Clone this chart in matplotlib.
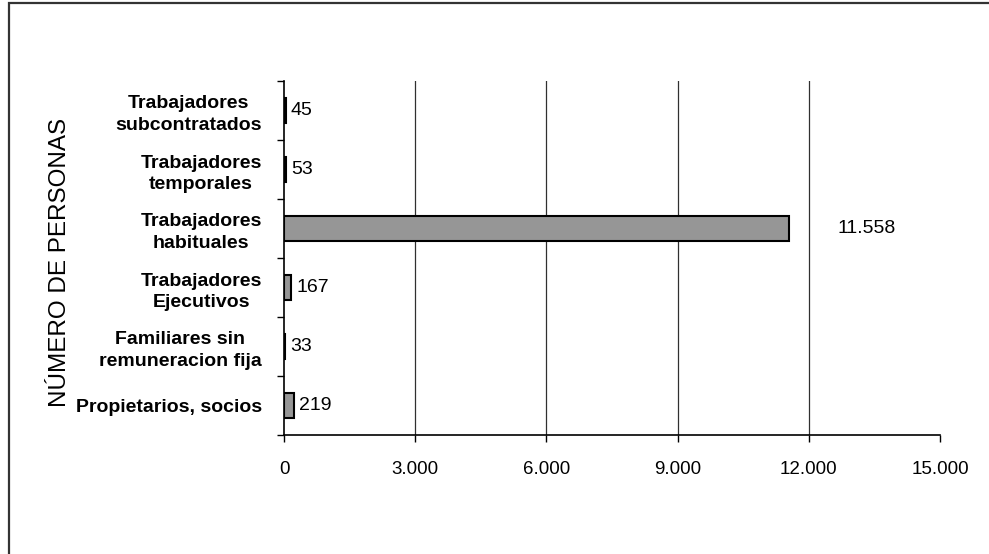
import numpy as np
import matplotlib.pyplot as plt
from matplotlib.patches import Rectangle

plt.rcParams['font.family'] = ['Liberation Sans', 'DejaVu Sans']

# data
categorias = ["Propietarios, socios",
              "Familiares sin\nremuneracion fija",
              "Trabajadores\nEjecutivos",
              "Trabajadores\nhabituales",
              "Trabajadores\ntemporales",
              "Trabajadores\nsubcontratados"]
personas = [219, 33, 167, 11558, 53, 45]
x_ticks = [0, 3000, 6000, 9000, 12000, 15000]


def miles(v):
    return f"{v:,}".replace(",", ".")


fig = plt.figure(figsize=(9.89, 5.54), dpi=100)
ax = fig.add_axes([284 / 989, 1 - 435 / 554, 656 / 989, 354 / 554])

y = np.arange(len(categorias))
ax.barh(y, personas, height=0.43, color="#969696", edgecolor="black", linewidth=1.5, zorder=3)

for t in x_ticks[1:-1]:
    ax.axvline(t, color="#303030", linewidth=0.9, zorder=1)

for yi, v in zip(y, personas):
    off = 48 if v > 5000 else 5
    ax.annotate(miles(v), (v, yi), xytext=(off * 0.72, 0), textcoords="offset points",
                ha="left", va="center", fontsize=14)

ax.set_xlim(0, 15000)
ax.set_ylim(-0.5, len(categorias) - 0.5)
ax.set_xticks(x_ticks)
ax.set_xticklabels([miles(t) for t in x_ticks], fontsize=13.5)
ax.tick_params(axis="x", length=5, width=1, pad=14)

ax.set_yticks(y)
ax.set_yticklabels(categorias, fontsize=14, fontweight="bold", multialignment="center",
                   linespacing=1.35)
ax.set_yticks(np.arange(-0.5, len(categorias)), minor=True)
ax.tick_params(axis="y", which="major", length=0, pad=16)
ax.tick_params(axis="y", which="minor", length=5, width=1)

for s in ["top", "right"]:
    ax.spines[s].set_visible(False)
for s in ["left", "bottom"]:
    ax.spines[s].set_linewidth(1.2)

fig.text(60 / 989, 1 - 262 / 554, "NÚMERO DE PERSONAS", rotation=90,
         ha="center", va="center", fontsize=17.5)

# marco exterior
fig.patches.append(Rectangle((8.5 / 989, -0.2), 2, 1.2 - 2.5 / 554, transform=fig.transFigure,
                             fill=False, edgecolor="#333333", linewidth=1.6, clip_on=False))

fig.savefig("out.png", dpi=100)
